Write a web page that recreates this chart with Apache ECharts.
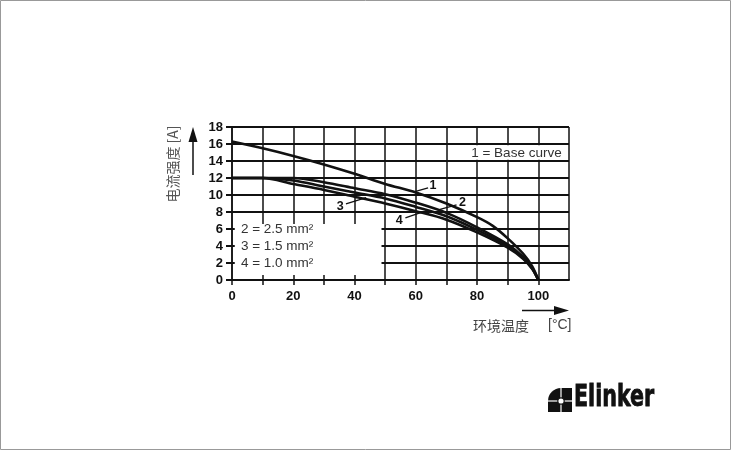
<!DOCTYPE html>
<html><head><meta charset="utf-8">
<script src="https://cdn.jsdelivr.net/npm/echarts@6/dist/echarts.min.js"></script>
<style>html,body{margin:0;padding:0;background:#fff}#c{width:731px;height:450px}</style>
</head><body><div id="c"></div>
<script>
// Data
const tempsBase = [0, 10, 20, 30, 40, 50, 60, 70, 80, 85, 90, 95, 98, 100];
const curveBase = [16.3, 15.5, 14.6, 13.6, 12.5, 11.3, 10.3, 9.0, 7.4, 6.4, 4.9, 3.1, 1.6, 0];
const temps = [0, 10, 20, 30, 40, 50, 60, 70, 80, 90, 95, 98, 100];
const curve25 = [12, 12, 12, 11.5, 10.8, 10.1, 9.1, 7.9, 6.2, 4.2, 2.7, 1.4, 0];
const curve15 = [12, 12, 11.7, 11.0, 10.3, 9.6, 8.6, 7.5, 5.9, 4.0, 2.6, 1.35, 0];
const curve10 = [12, 12, 11.3, 10.6, 9.8, 9.0, 8.1, 7.1, 5.6, 3.8, 2.5, 1.3, 0];
const xTicks = [0, 20, 40, 60, 80, 100];
const legendLines = ['2 = 2.5 mm²', '3 = 1.5 mm²', '4 = 1.0 mm²'];
const baseLabel = '1 = Base curve';
const yTitle = '电流强度 [A]';
const xTitle = '环境温度';
const xUnit = '[°C]';

const zip = (xs, ys) => xs.map((x, i) => [x, ys[i]]);
const lineStyle = { color: '#111', width: 2.6 };
const mkSeries = (name, data) => ({
  name, type: 'line', data, smooth: 0.3, symbol: 'none',
  lineStyle, z: 5
});

const chart = echarts.init(document.getElementById('c'));
const option = {
  animation: false,
  backgroundColor: '#fff',
  grid: { left: 232, top: 127, width: 337, height: 153 },
  xAxis: {
    type: 'value', min: 0, max: 110, interval: 10,
    axisLine: { show: true, onZero: false, lineStyle: { color: '#111', width: 2 } },
    axisTick: { show: true, length: 5, lineStyle: { color: '#111', width: 1.5 } },
    splitLine: { show: true, lineStyle: { color: '#111', width: 1.5 } },
    axisLabel: {
      margin: 10, color: '#111', fontSize: 13, fontWeight: 'bold', fontFamily: 'Liberation Sans',
      showMaxLabel: false,
      formatter: v => (xTicks.indexOf(v) >= 0 ? String(v) : '')
    }
  },
  yAxis: {
    type: 'value', min: 0, max: 18, interval: 2,
    axisLine: { show: true, lineStyle: { color: '#111', width: 1.5 } },
    axisTick: { show: true, length: 6, lineStyle: { color: '#111', width: 2 } },
    splitLine: { show: true, lineStyle: { color: '#111', width: 2 } },
    axisLabel: { margin: 9, color: '#111', fontSize: 13, fontWeight: 'bold', fontFamily: 'Liberation Sans' }
  },
  series: [
    Object.assign(mkSeries('1', zip(tempsBase, curveBase)), {
      markArea: {
        silent: true,
        itemStyle: { color: '#fff' },
        label: { show: false },
        data: [
          [{ coord: [0.9, 0.6] }, { coord: [48.8, 6.6] }],
          [{ coord: [75.5, 14.15] }, { coord: [109.5, 15.85] }]
        ]
      },
      z: 3
    }),
    mkSeries('2', zip(temps, curve25)),
    mkSeries('3', zip(temps, curve15)),
    mkSeries('4', zip(temps, curve10))
  ]
};
chart.setOption(option);

const P = (x, y) => chart.convertToPixel({ gridIndex: 0 }, [x, y]);
const g = [];
const txt = (x, y, text, style, extra) => g.push(Object.assign({
  type: 'text', x, y, z: 100,
  style: Object.assign({ text, fill: '#222', font: '13px "Liberation Sans", Arial', textVerticalAlign: 'middle' }, style)
}, extra || {}));

// legend box texts
[6, 4, 2].forEach((yv, i) => {
  const p = P(2.9, yv);
  txt(p[0], p[1] + 0.5, legendLines[i], { fill: '#333', font: '13.5px "Liberation Sans", Arial' });
});
{
  const p = P(107.6, 14.85);
  txt(p[0], p[1], baseLabel, { fill: '#333', font: '13.5px "Liberation Sans", Arial', textAlign: 'right' });
}
// curve labels with leaders
const labels = [
  { t: '1', pos: [65.6, 11.06], a: [59.1, 10.35], b: [64.0, 10.85] },
  { t: '2', pos: [75.2, 9.1], a: [67.9, 8.3], b: [73.3, 8.85] },
  { t: '3', pos: [35.3, 8.65], a: [37.2, 8.95], b: [43.8, 9.7] },
  { t: '4', pos: [54.6, 7.0], a: [56.6, 7.3], b: [61.8, 7.95] }
];
labels.forEach(l => {
  const p = P(l.pos[0], l.pos[1]);
  txt(p[0], p[1], l.t, { fill: '#111', font: 'bold 12.5px "Liberation Sans", Arial', textAlign: 'center' });
  const a = P(l.a[0], l.a[1]), b = P(l.b[0], l.b[1]);
  g.push({ type: 'line', z: 100, shape: { x1: a[0], y1: a[1], x2: b[0], y2: b[1] }, style: { stroke: '#111', lineWidth: 1.3 } });
});

// y axis title + arrow
g.push({
  type: 'text', x: 173, y: 164, rotation: Math.PI / 2, z: 100,
  style: { text: yTitle, fill: '#555', font: '14px "Noto Sans CJK SC", sans-serif', textAlign: 'center', textVerticalAlign: 'middle' }
});
g.push({ type: 'line', z: 100, shape: { x1: 193, y1: 175, x2: 193, y2: 138 }, style: { stroke: '#111', lineWidth: 1.5 } });
g.push({ type: 'polygon', z: 100, shape: { points: [[193, 127], [188.5, 142], [197.5, 142]] }, style: { fill: '#111' } });
// x axis title + arrow
txt(473, 325.5, xTitle, { fill: '#444', font: '14px "Noto Sans CJK SC", sans-serif' });
txt(548, 325.5, xUnit, { fill: '#444', font: '14px "Liberation Sans", Arial' });
g.push({ type: 'line', z: 100, shape: { x1: 522, y1: 310.5, x2: 557, y2: 310.5 }, style: { stroke: '#111', lineWidth: 1.5 } });
g.push({ type: 'polygon', z: 100, shape: { points: [[569, 310.5], [554, 306], [554, 315]] }, style: { fill: '#111' } });

// logo
g.push({ type: 'sector', z: 100, shape: { cx: 561, cy: 401, r0: 0, r: 13, startAngle: Math.PI, endAngle: Math.PI * 1.5, clockwise: true }, style: { fill: '#111' } });
g.push({ type: 'rect', z: 100, shape: { x: 561, y: 388, width: 11, height: 24 }, style: { fill: '#111' } });
g.push({ type: 'rect', z: 100, shape: { x: 548, y: 401, width: 13, height: 11 }, style: { fill: '#111' } });
g.push({ type: 'line', z: 101, shape: { x1: 561, y1: 388, x2: 561, y2: 412 }, style: { stroke: '#fff', lineWidth: 1.2 } });
g.push({ type: 'line', z: 101, shape: { x1: 548, y1: 401, x2: 572, y2: 401 }, style: { stroke: '#fff', lineWidth: 1.2 } });
g.push({ type: 'circle', z: 102, shape: { cx: 561, cy: 401, r: 3.2 }, style: { fill: '#fff', stroke: '#111', lineWidth: 1.2 } });
g.push({
  type: 'text', x: 574, y: 413, z: 100, scaleX: 0.74,
  style: { text: 'Elinker', fill: '#111', font: 'bold 31px "Liberation Sans Narrow", "DejaVu Sans Condensed", sans-serif', textVerticalAlign: 'bottom', stroke: '#111', lineWidth: 0.8 }
});
// outer border
g.push({ type: 'rect', z: 0, shape: { x: 0.5, y: 0.5, width: 730, height: 449 }, style: { fill: 'none', stroke: '#999', lineWidth: 1 } });

chart.setOption({ graphic: g });
</script>
</body></html>
